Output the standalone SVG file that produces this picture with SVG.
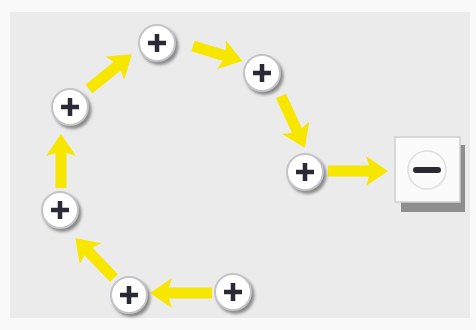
<svg xmlns="http://www.w3.org/2000/svg" width="476" height="330" viewBox="0 0 476 330">
<defs>
<style>
.ring{fill:#ffffff;stroke:#c4c4c8;stroke-width:2}
.sh{fill:#8a8a8a;filter:url(#blur)}
.plus{stroke:#2a2a36;stroke-width:4.5;fill:none}
.shaft{stroke:#f6e600;stroke-width:11;fill:none;marker-end:url(#head)}
</style>
<filter id="blur" x="-50%" y="-50%" width="200%" height="200%"><feGaussianBlur stdDeviation="1.6"/></filter>
<marker id="head" viewBox="0 0 22 30" refX="8" refY="15" markerWidth="22" markerHeight="30" markerUnits="userSpaceOnUse" orient="auto">
<path d="M0,0 L22,15 L0,30 L5,15 Z" fill="#f6e600"/>
</marker>
<g id="pnode">
<circle class="sh" cx="2.5" cy="3" r="19"/>
<circle class="ring" r="18"/>
<path class="plus" d="M-9,0H9M0,-9V9"/>
</g>
</defs>
<rect width="476" height="330" fill="#f9f9f9"/>
<rect x="10" y="12" width="460" height="306" fill="#ebebeb"/>
<g id="connectors">
<line class="shaft" x1="212" y1="293" x2="164" y2="293"/>
<line class="shaft" x1="114" y1="278" x2="85" y2="248"/>
<line class="shaft" x1="61" y1="188" x2="61" y2="148"/>
<line class="shaft" x1="89" y1="89" x2="121" y2="63"/>
<line class="shaft" x1="193" y1="46" x2="229" y2="57"/>
<line class="shaft" x1="281" y1="96" x2="299" y2="135"/>
<line class="shaft" x1="328" y1="171" x2="374" y2="171"/>
</g>
<g id="n1"><use href="#pnode" x="233" y="292"/></g>
<g id="n2"><use href="#pnode" x="129" y="295"/></g>
<g id="n3"><use href="#pnode" x="60" y="210"/></g>
<g id="n4"><use href="#pnode" x="70" y="107"/></g>
<g id="n5"><use href="#pnode" x="157" y="43"/></g>
<g id="n6"><use href="#pnode" x="262" y="73"/></g>
<g id="n7"><use href="#pnode" x="305" y="172"/></g>
<g id="minus">
<rect x="401" y="145" width="64" height="67" fill="#8e8e8e"/>
<rect x="395" y="137" width="65" height="65" fill="#fbfbfb" stroke="#d0d0d0" stroke-width="1.5"/>
<circle cx="427" cy="170" r="19" fill="none" stroke="#dedede" stroke-width="1.5"/>
<line x1="416" y1="170" x2="438" y2="170" stroke="#2a2a30" stroke-width="6" stroke-linecap="round"/>
</g>
</svg>
